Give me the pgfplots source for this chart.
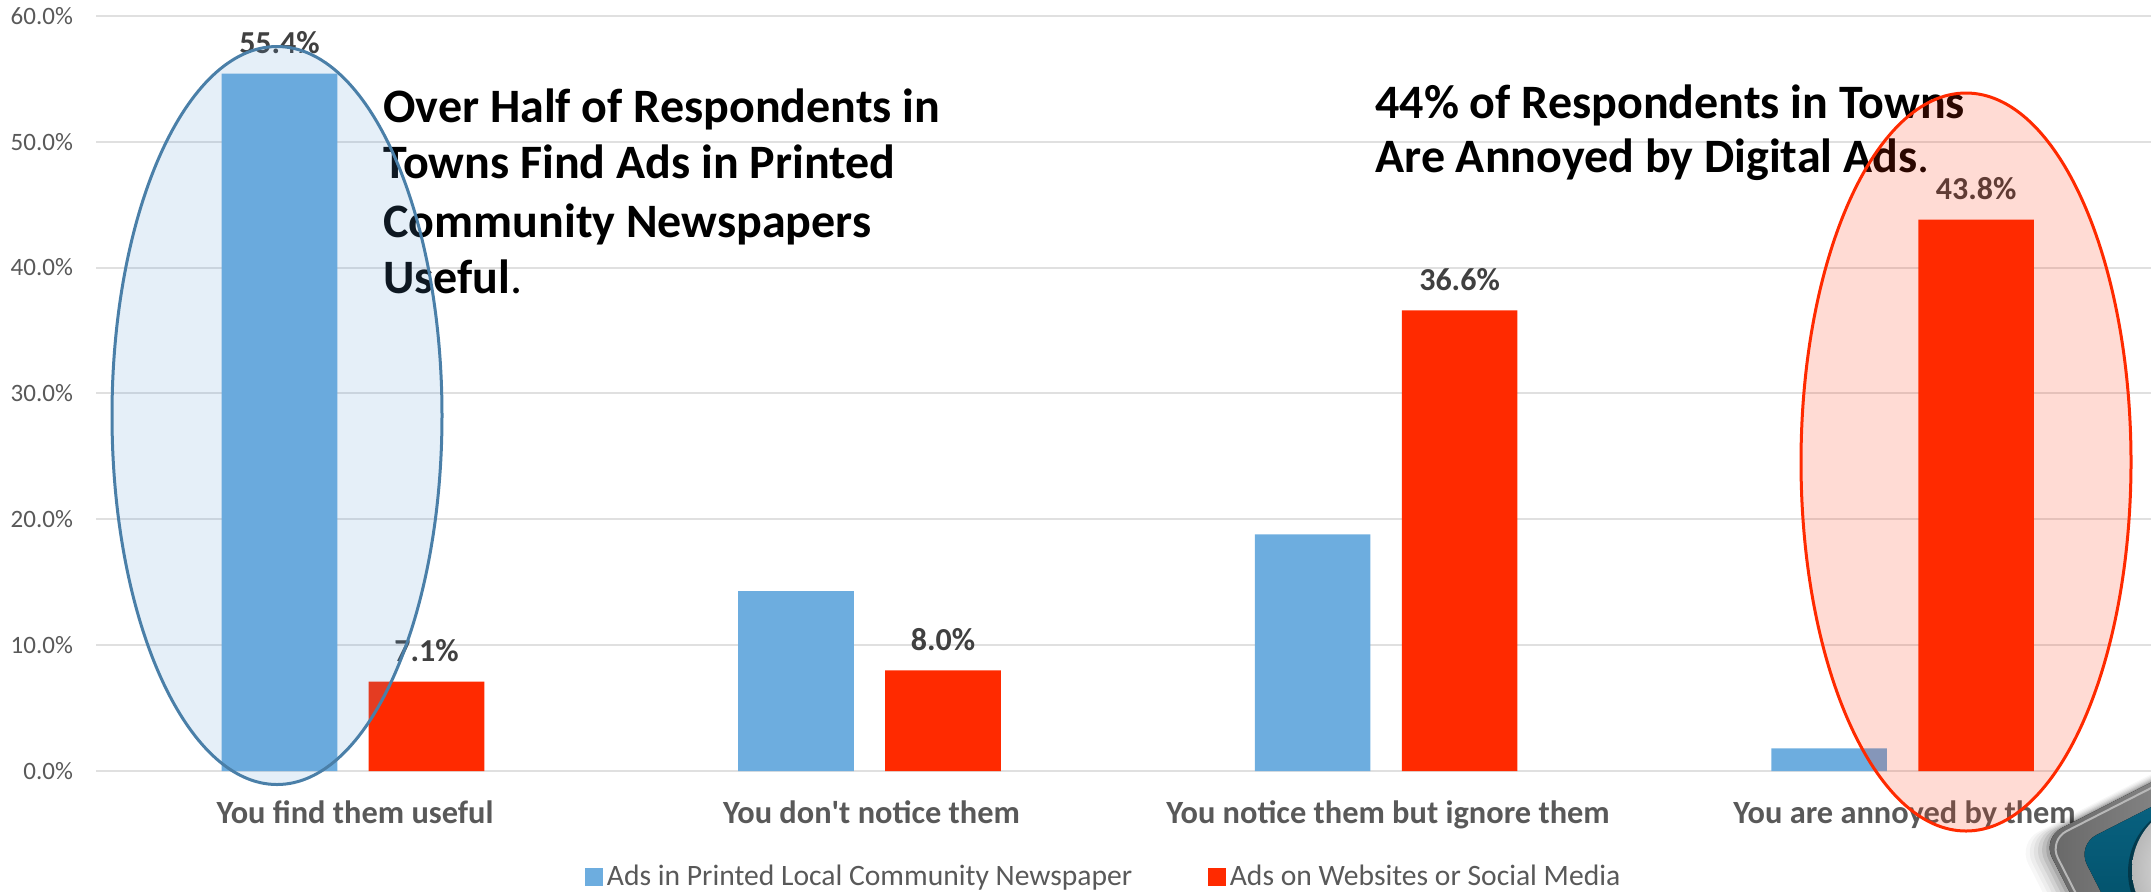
\documentclass[border=0pt]{standalone}
\usepackage{pgfplots}
\pgfplotsset{compat=1.18}
\usepackage{fontspec}
\setmainfont{Carlito}
\definecolor{printblue}{HTML}{6DADDF}
\definecolor{webred}{HTML}{FF2A00}
\definecolor{gridgray}{HTML}{E0E0E0}
\definecolor{ticktext}{HTML}{595959}
\definecolor{valuetext}{HTML}{404040}
\definecolor{ringblue}{HTML}{4A7FA8}
\definecolor{haloblue}{HTML}{5B9BD5}
\definecolor{badgetealA}{HTML}{0B6A8C}
\definecolor{badgetealB}{HTML}{00495F}
\newcommand{\fs}[1]{\fontsize{#1}{#1}\selectfont}
\begin{document}
\begin{tikzpicture}
\useasboundingbox (0,0) rectangle (1075.5pt,-445.5pt);
\clip (0,0) rectangle (1075.5pt,-445.5pt);
\begin{axis}[
  at={(48pt,-385.5pt)}, anchor=south west,
  scale only axis, width=1027.5pt, height=377.6pt,
  xmin=-0.4976, xmax=3.481, ymin=0, ymax=60,
  axis line style={draw=none},
  ybar, bar width=57.8pt,
  ytick={0,10,...,60},
  yticklabel={\pgfmathprintnumber[fixed,fixed zerofill,precision=1]{\tick}\%},
  /pgf/number format/assume math mode=true,
  xtick={0,1,2,3},
  xticklabels={You find them useful,You don\textquotesingle t notice them,You notice them but ignore them,You are annoyed by them},
  major tick length=0pt,
  ymajorgrids, grid style={draw=gridgray,line width=1pt},
  yticklabel style={font=\fs{12.5},text=ticktext,xshift=-8pt},
  xticklabel style={font=\fs{16.2}\bfseries,text=ticktext,yshift=-11.5pt,xshift=1pt},
  legend columns=2,
  legend style={at={(0.2350,-0.1405)},anchor=west,draw=none,fill=none,font=\fs{14.8},text=ticktext,
    /tikz/every even column/.append style={column sep=36pt}},
  legend image code/.code={\fill[#1] (0pt,-4.4pt) rectangle (8.8pt,4.4pt);},
  nodes near coords align={center},
  every node near coord/.append style={font=\fs{16}\bfseries,text=valuetext,yshift=15.5pt},
]
\addplot+[bar shift=-36.75pt,fill=printblue,draw=none,
  point meta=explicit symbolic,nodes near coords]
  coordinates {(0,55.4)[55.4\%] (1,14.3)[] (2,18.8)[] (3,1.8)[]};
\addlegendentry{Ads in Printed Local Community Newspaper}
\addplot+[bar shift=36.75pt,fill=webred,draw=none,
  point meta=explicit symbolic,nodes near coords]
  coordinates {(0,7.1)[7.1\%] (1,8.0)[8.0\%] (2,36.6)[36.6\%] (3,43.8)[43.8\%]};
\addlegendentry{Ads on Websites or Social Media}
\end{axis}
% one unit in this scope is half a point, counted down from the top edge
\begin{scope}[x=0.5pt,y=-0.5pt]
\begin{scope}[every node/.style={anchor=base west,inner sep=0pt,font=\fs{24}\bfseries}]
\node at (383,122) {Over Half of Respondents in};
\node at (383,178) {Towns Find Ads in Printed};
\node at (383,237) {Community Newspapers};
\node at (383,293) {Useful{\mdseries.}};
\node at (1375,118) {44\% of Respondents in Towns};
\node at (1375,172) {Are Annoyed by Digital Ads{\mdseries.}};
\end{scope}
% highlight ellipses
\draw[ringblue,line width=1.5pt,fill=haloblue,fill opacity=0.16] (277,415.5) ellipse [x radius=165,y radius=369];
\draw[webred,line width=1.5pt,fill=webred,fill opacity=0.17] (1966,462) ellipse [x radius=165,y radius=369];
% corner badge
\begin{scope}[rotate around={27:(2042,838)}]
\foreach \g/\o in {24/0.03,20/0.04,16/0.05,12/0.07,8/0.09,4/0.12}
  \fill[black,opacity=\o,rounded corners=12pt] (2042-\g,838-\g*0.3) rectangle (2300,1000);
\fill[rounded corners=11pt,left color=black!60,right color=gray!60] (2042,838) rectangle (2300,1000);
\draw[white!72!black,line width=1pt,rounded corners=10pt] (2047,843) rectangle (2300,1000);
\fill[rounded corners=11pt,top color=badgetealA,bottom color=badgetealB] (2070,860) rectangle (2300,1000);
\end{scope}
\fill[black,opacity=0.35] (2198,872) circle [radius=70];
\shade[inner color=white!95!black,outer color=gray!55] (2200,870) circle [radius=68];
\end{scope}
\end{tikzpicture}
\end{document}
